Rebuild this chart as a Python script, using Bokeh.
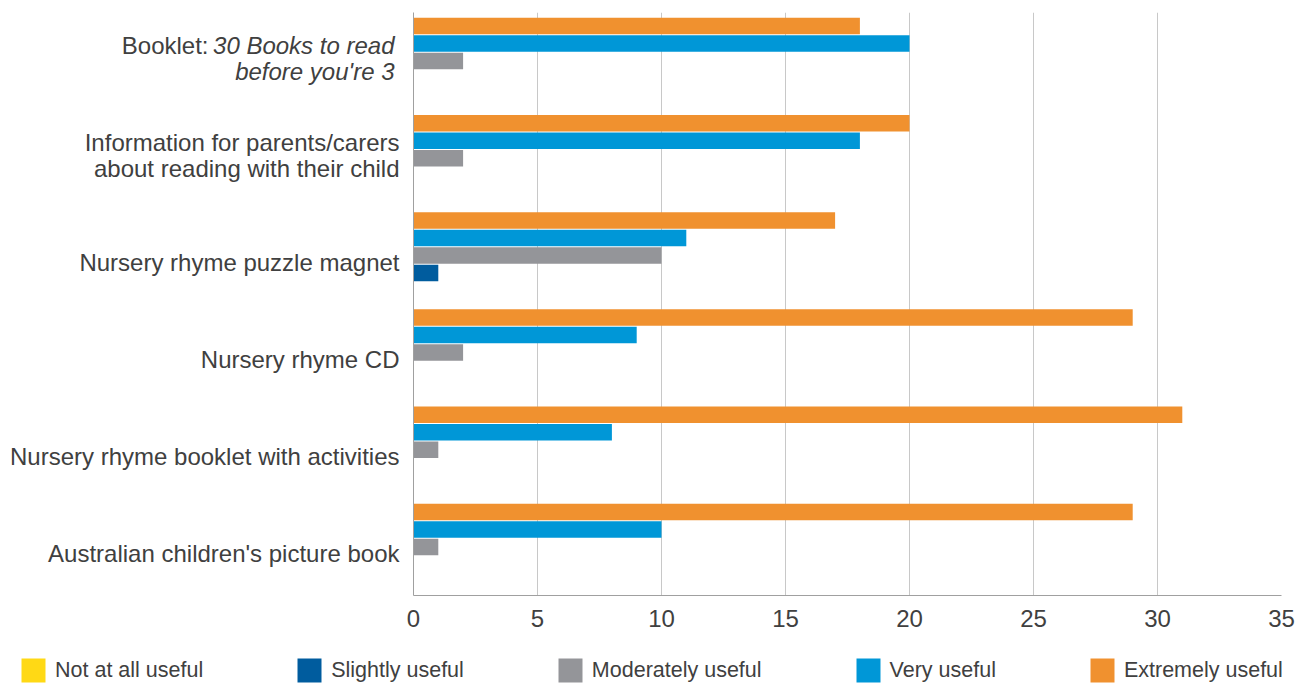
from bokeh.plotting import figure
from bokeh.models import Range1d, FixedTicker, Legend, LegendItem
from bokeh.layouts import column, row
from bokeh.core.properties import value
from bokeh.embed import file_html
from bokeh.resources import INLINE

# category labels (plain part and italic part)
cat_plain = [
    "Booklet:",
    "Information for parents/carers\nabout reading with their child",
    "Nursery rhyme puzzle magnet",
    "Nursery rhyme CD",
    "Nursery rhyme booklet with activities",
    "Australian children's picture book",
]
cat_italic = ["30 Books to read\nbefore you're 3", "", "", "", "", ""]
not_at_all = [0, 0, 0, 0, 0, 0]
slightly = [0, 0, 1, 0, 0, 0]
moderately = [2, 2, 10, 2, 1, 1]
very = [20, 18, 11, 9, 8, 10]
extremely = [18, 20, 17, 29, 31, 29]
series_names = ["Not at all useful", "Slightly useful", "Moderately useful", "Very useful", "Extremely useful"]
series_values = [not_at_all, slightly, moderately, very, extremely]
colors = ["#FFD915", "#005C9E", "#949599", "#0097D7", "#F0912F"]
x_ticks = [0, 5, 10, 15, 20, 25, 30, 35]

FONT = "Liberation Sans"
TXT = "#404040"
FS = "24px"
n = len(cat_plain)
base = [n - 1 - i for i in range(n)]  # first category at top
yr = Range1d(-0.5, n - 0.5)

# ---------------- main chart ----------------
p = figure(width=903, height=640, output_backend="svg", toolbar_location=None,
           x_range=Range1d(0, 35), y_range=yr,
           min_border_left=10, min_border_right=25, min_border_top=12, min_border_bottom=45)
p.outline_line_color = None

step = 0.18
hgt = 0.17
offsets = [-2 * step, -step, 0, step, 2 * step]
for name, vals, col, off in zip(series_names, series_values, colors, offsets):
    ys = [b + off for b in base]
    p.hbar(y=ys, right=vals, left=0, height=hgt, fill_color=col, line_color=None)

p.xaxis.ticker = FixedTicker(ticks=x_ticks)
p.xaxis.major_tick_line_color = None
p.xaxis.minor_tick_line_color = None
p.xaxis.axis_line_color = "#A0A0A0"
p.xaxis.major_label_standoff = 8
p.xaxis.major_label_text_font = FONT
p.xaxis.major_label_text_font_size = "24px"
p.xaxis.major_label_text_color = TXT

p.yaxis.ticker = FixedTicker(ticks=[])
p.yaxis.major_tick_line_color = None
p.yaxis.minor_tick_line_color = None
p.yaxis.major_label_standoff = 0
p.yaxis.axis_line_color = "#A0A0A0"

p.xgrid.grid_line_color = "#C8C8C8"
p.ygrid.grid_line_color = None

# ---------------- category labels panel ----------------
lab = figure(width=403, height=640, output_backend="svg", toolbar_location=None,
             x_range=Range1d(0, 1), y_range=yr, x_axis_location=None, y_axis_location=None,
             min_border_left=0, min_border_right=0, min_border_top=12, min_border_bottom=45)
lab.outline_line_color = None
lab.xgrid.grid_line_color = None
lab.ygrid.grid_line_color = None

common = dict(text_align="right", text_baseline="middle", text_font=value(FONT),
              text_font_size=FS, text_color=TXT, text_line_height=0.96)
single = [i for i in range(n) if cat_italic[i] == "" and "\n" not in cat_plain[i]]
multi = [i for i in range(n) if cat_italic[i] == "" and "\n" in cat_plain[i]]
mixed = [i for i in range(n) if cat_italic[i] != ""]

lab.text(x=[1] * len(single), y=[base[i] for i in single],
         text=[cat_plain[i] for i in single], x_offset=-4, y_offset=7, **common)
lab.text(x=[1] * len(multi), y=[base[i] for i in multi],
         text=[cat_plain[i] for i in multi], x_offset=-4, y_offset=-3, **common)
lab.text(x=[1] * len(mixed), y=[base[i] for i in mixed],
         text=[cat_italic[i] for i in mixed], x_offset=-9, y_offset=-3,
         text_font_style="italic", **common)
lab.text(x=[1] * len(mixed), y=[base[i] for i in mixed],
         text=[cat_plain[i] for i in mixed], x_offset=-195, y_offset=-16, **common)

# ---------------- legend panel ----------------
lg = figure(width=1306, height=44, output_backend="svg", toolbar_location=None,
            x_range=Range1d(0, 1), y_range=Range1d(0, 1),
            x_axis_location=None, y_axis_location=None,
            min_border_left=0, min_border_right=0, min_border_top=0, min_border_bottom=0)
lg.outline_line_color = None
lg.xgrid.grid_line_color = None
lg.ygrid.grid_line_color = None
lg_items = []
for name, col in zip(series_names, colors):
    # zero-width bar: draws nothing, but gives the legend its swatch colour
    r = lg.hbar(y=[0.5], right=[0], left=[0], height=0.1, fill_color=col, line_color=None)
    lg_items.append(LegendItem(label=name, renderers=[r]))
legend = Legend(items=lg_items, orientation="horizontal", location=(18, -1),
                glyph_width=30, glyph_height=30, label_standoff=7, spacing=91,
                padding=0, margin=0, border_line_color=None, background_fill_alpha=0,
                label_text_font=FONT, label_text_font_size="21.5px", label_text_color=TXT)
lg.add_layout(legend, "center")

layout = column(row(lab, p), lg)
open("out.html", "w").write(file_html(layout, INLINE))
